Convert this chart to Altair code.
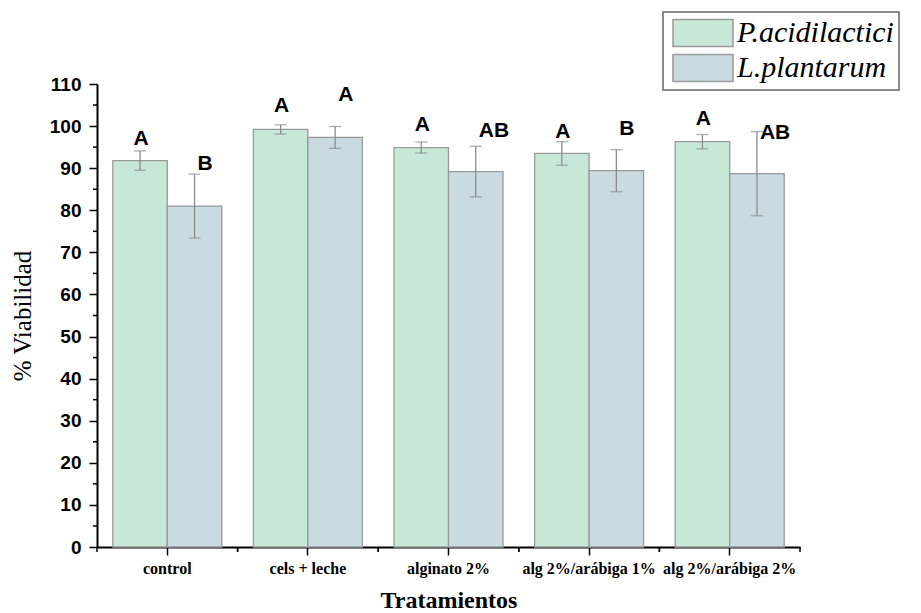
import altair as alt
import pandas as pd

categories = ["control", "cels + leche", "alginato 2%", "alg 2%/arábiga 1%", "alg 2%/arábiga 2%"]
series = ["P.acidilactici", "L.plantarum"]
colors = ["#C8E8D7", "#CADAE1"]

p_values = [91.8, 99.2, 94.9, 93.5, 96.3]
p_errors = [2.3, 1.1, 1.3, 2.8, 1.7]
l_values = [81.0, 97.3, 89.2, 89.4, 88.7]
l_errors = [7.6, 2.6, 6.0, 5.0, 10.0]

p_letters = ["A", "A", "A", "A", "A"]
p_letter_y = [97.0, 104.8, 100.2, 98.6, 101.8]
l_letters = ["B", "A", "AB", "B", "AB"]
l_letter_y = [91.0, 107.4, 98.9, 99.3, 98.4]

y_major_ticks = [0, 10, 20, 30, 40, 50, 60, 70, 80, 90, 100, 110]
y_minor_ticks = [5, 15, 25, 35, 45, 55, 65, 75, 85, 95, 105]

rows = []
for i, c in enumerate(categories):
    rows.append(dict(cat=c, series=series[0], value=p_values[i], lo=p_values[i] - p_errors[i],
                     hi=p_values[i] + p_errors[i], letter=p_letters[i], ly=p_letter_y[i]))
    rows.append(dict(cat=c, series=series[1], value=l_values[i], lo=l_values[i] - l_errors[i],
                     hi=l_values[i] + l_errors[i], letter=l_letters[i], ly=l_letter_y[i]))
df = pd.DataFrame(rows)
cat_df = pd.DataFrame({"cat": categories})
minor_df = pd.DataFrame({"v": y_minor_ticks})

YT = "% Viabilidad"

x_axis = alt.Axis(
    title="Tratamientos", labelAngle=0, tickBand="center", tickSize=8, tickWidth=1.5,
    tickColor="black", domainColor="black", domainWidth=2,
    labelFont="Liberation Serif", labelFontWeight="bold", labelFontSize=16, labelColor="black",
    labelPadding=5, labelOverlap=False, labelBound=False, labelLimit=300,
    titleFont="Liberation Serif", titleFontSize=24, titleFontWeight="bold", titleColor="black",
    titlePadding=12,
)
y_axis = alt.Axis(
    values=y_major_ticks, tickSize=8,
    tickWidth=1.5, tickColor="black", domainColor="black", domainWidth=2, grid=False,
    labelFont="Liberation Sans", labelFontWeight="bold", labelFontSize=19, labelColor="black",
    labelPadding=8,
    titleFont="Liberation Serif", titleFontSize=25, titleFontWeight="normal", titleColor="black",
    titlePadding=14,
)

x_enc = alt.X("cat:N", sort=categories, scale=alt.Scale(paddingInner=0, paddingOuter=0), axis=x_axis)
xo_enc = alt.XOffset("series:N", sort=series, scale=alt.Scale(paddingInner=0, paddingOuter=0.29))

base = alt.Chart(df)

bars = base.mark_bar(stroke="#999999", strokeWidth=1.3).encode(
    x=x_enc,
    xOffset=xo_enc,
    y=alt.Y("value:Q", title=YT, scale=alt.Scale(domain=[0, 110], nice=False), axis=y_axis),
    color=alt.Color("series:N", sort=series, scale=alt.Scale(domain=series, range=colors),
                    legend=alt.Legend(title=None, labelExpr="datum.label + '\u00a0\u00a0\u00a0\u00a0\u00a0'")),
)

err_rule = base.mark_rule(color="#8c8c8c", strokeWidth=1.3).encode(
    x=alt.X("cat:N", sort=categories),
    xOffset=alt.XOffset("series:N", sort=series),
    y=alt.Y("lo:Q", title=YT),
    y2="hi:Q",
)
cap_lo = base.mark_tick(color="#8c8c8c", thickness=1.3, size=12).encode(
    x=alt.X("cat:N", sort=categories),
    xOffset=alt.XOffset("series:N", sort=series),
    y=alt.Y("lo:Q", title=YT),
)
cap_hi = base.mark_tick(color="#8c8c8c", thickness=1.3, size=12).encode(
    x=alt.X("cat:N", sort=categories),
    xOffset=alt.XOffset("series:N", sort=series),
    y=alt.Y("hi:Q", title=YT),
)

text_font = dict(font="Liberation Sans", fontWeight="bold", fontSize=21, color="black", baseline="middle")
p_text = base.transform_filter(alt.datum.series == series[0]).mark_text(align="center", dx=1, **text_font).encode(
    x=alt.X("cat:N", sort=categories),
    xOffset=alt.XOffset("series:N", sort=series),
    y=alt.Y("ly:Q", title=YT),
    text="letter:N",
)
l_text = base.transform_filter(alt.datum.series == series[1]).mark_text(align="left", dx=3, **text_font).encode(
    x=alt.X("cat:N", sort=categories),
    xOffset=alt.XOffset("series:N", sort=series),
    y=alt.Y("ly:Q", title=YT),
    text="letter:N",
)

minor_l = alt.Chart(cat_df).mark_rule(color="black", strokeWidth=1.5).encode(
    x=alt.X("cat:N", sort=categories, bandPosition=0),
    y=alt.value(463), y2=alt.value(468),
)
minor_r = alt.Chart(cat_df).mark_rule(color="black", strokeWidth=1.5).encode(
    x=alt.X("cat:N", sort=categories, bandPosition=1),
    y=alt.value(463), y2=alt.value(468),
)
minor_y = alt.Chart(minor_df).mark_rule(color="black", strokeWidth=1.5).encode(
    y=alt.Y("v:Q", title=YT),
    x=alt.value(-4), x2=alt.value(0),
)

chart = alt.layer(bars, err_rule, cap_lo, cap_hi, p_text, l_text, minor_l, minor_r, minor_y).properties(
    width=703, height=463,
    padding={"left": 89, "top": 76, "right": 113, "bottom": 66},
    autosize=alt.AutoSizeParams(type="none"),
    background="white",
).configure_view(stroke=None).configure_legend(
    orient="none", legendX=566, legendY=-72,
    strokeColor="#666666", strokeWidth=1.5, fillColor="white", padding=5,
    symbolType="M-2,-0.9H2V0.9H-2Z", symbolSize=900, symbolOffset=19,
    symbolStrokeColor="#999999", symbolStrokeWidth=1.5, symbolOpacity=1,
    labelFont="Liberation Serif", labelFontStyle="italic", labelFontSize=30,
    labelColor="black", labelOffset=18, labelLimit=500, rowPadding=1,
)

chart.save("out.html", embed_options={"renderer": "svg", "actions": False})
